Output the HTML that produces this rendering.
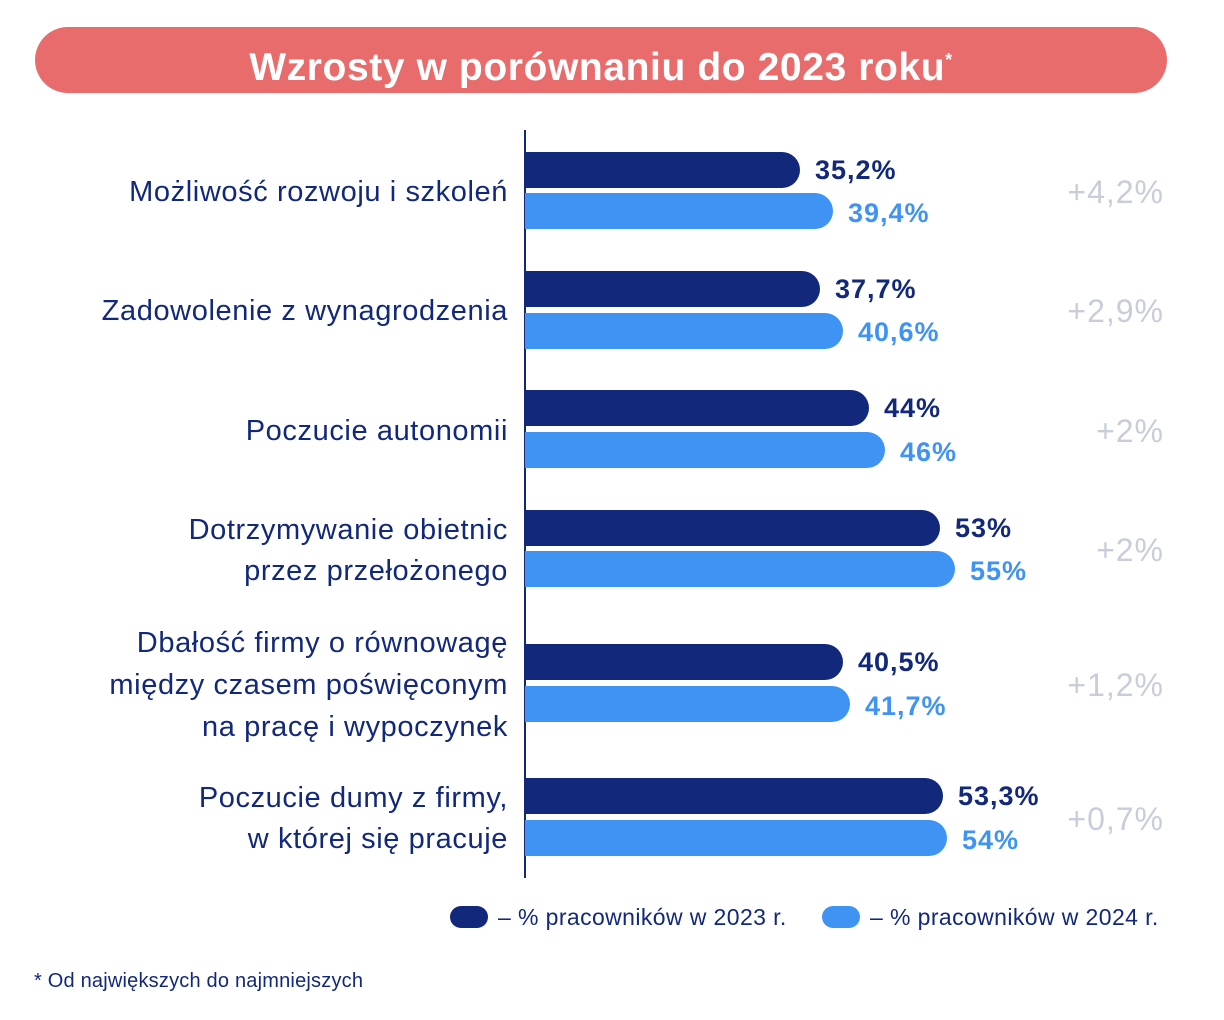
<!DOCTYPE html>
<html><head><meta charset="utf-8"><style>
body{margin:0;width:1224px;height:1020px;background:#fff;font-family:"Liberation Sans",sans-serif;position:relative;overflow:hidden}
.a{position:absolute;white-space:nowrap}
.pill{left:35px;top:27px;width:1132px;height:66px;border-radius:33px;background:#E96C6C;color:#fff;font-weight:bold;font-size:39px;text-align:center;line-height:66px;letter-spacing:0.6px}
.bar{position:absolute;left:525px;height:36px;border-radius:0 18px 18px 0}
.d{background:#12287A}.l{background:#3F93F3}
.v{position:absolute;font-weight:bold;font-size:27px;line-height:36px;letter-spacing:1px}
.vd{color:#12287A}.vl{color:#3F93F3}
.c{position:absolute;right:716px;text-align:right;color:#12287A;font-size:29px;line-height:36px;letter-spacing:0.6px}
.g{position:absolute;right:60px;color:#C9CDD9;font-size:32px;line-height:36px;letter-spacing:1px}
</style></head><body>
<div class="a pill">Wzrosty w porównaniu do 2023 roku<sup style="font-size:18px">*</sup></div>
<div class="a" style="left:524px;top:130px;width:2px;height:748px;background:#12287A"></div>

<div class="bar d" style="top:152px;width:275px"></div><div class="v vd" style="left:815px;top:152px">35,2%</div>
<div class="bar l" style="top:193px;width:308px"></div><div class="v vl" style="left:848px;top:195px">39,4%</div>
<div class="c" style="top:174px">Możliwość rozwoju i szkoleń</div><div class="g" style="top:174px">+4,2%</div>

<div class="bar d" style="top:271px;width:295px"></div><div class="v vd" style="left:835px;top:271px">37,7%</div>
<div class="bar l" style="top:313px;width:318px"></div><div class="v vl" style="left:858px;top:314px">40,6%</div>
<div class="c" style="top:293px">Zadowolenie z wynagrodzenia</div><div class="g" style="top:293px">+2,9%</div>

<div class="bar d" style="top:390px;width:344px"></div><div class="v vd" style="left:884px;top:390px">44%</div>
<div class="bar l" style="top:432px;width:360px"></div><div class="v vl" style="left:900px;top:434px">46%</div>
<div class="c" style="top:413px">Poczucie autonomii</div><div class="g" style="top:413px">+2%</div>

<div class="bar d" style="top:510px;width:415px"></div><div class="v vd" style="left:955px;top:510px">53%</div>
<div class="bar l" style="top:551px;width:430px"></div><div class="v vl" style="left:970px;top:553px">55%</div>
<div class="c" style="top:512px">Dotrzymywanie obietnic</div><div class="c" style="top:553px">przez przełożonego</div><div class="g" style="top:532px">+2%</div>

<div class="bar d" style="top:644px;width:318px"></div><div class="v vd" style="left:858px;top:644px">40,5%</div>
<div class="bar l" style="top:686px;width:325px"></div><div class="v vl" style="left:865px;top:688px">41,7%</div>
<div class="c" style="top:625px">Dbałość firmy o równowagę</div><div class="c" style="top:667px">między czasem poświęconym</div><div class="c" style="top:709px">na pracę i wypoczynek</div><div class="g" style="top:667px">+1,2%</div>

<div class="bar d" style="top:778px;width:418px"></div><div class="v vd" style="left:958px;top:778px">53,3%</div>
<div class="bar l" style="top:820px;width:422px"></div><div class="v vl" style="left:962px;top:822px">54%</div>
<div class="c" style="top:780px">Poczucie dumy z firmy,</div><div class="c" style="top:821px">w której się pracuje</div><div class="g" style="top:801px">+0,7%</div>

<div class="a" style="left:450px;top:906px;width:38px;height:22px;border-radius:11px;background:#12287A"></div>
<div class="a" style="left:498px;top:904px;font-size:23px;color:#12287A;line-height:26px;letter-spacing:0.4px">– % pracowników w 2023 r.</div>
<div class="a" style="left:822px;top:906px;width:38px;height:22px;border-radius:11px;background:#3F93F3"></div>
<div class="a" style="left:870px;top:904px;font-size:23px;color:#12287A;line-height:26px;letter-spacing:0.4px">– % pracowników w 2024 r.</div>
<div class="a" style="left:34px;top:970px;font-size:20px;color:#12287A;line-height:22px;letter-spacing:0.2px">* Od największych do najmniejszych</div>
</body></html>
